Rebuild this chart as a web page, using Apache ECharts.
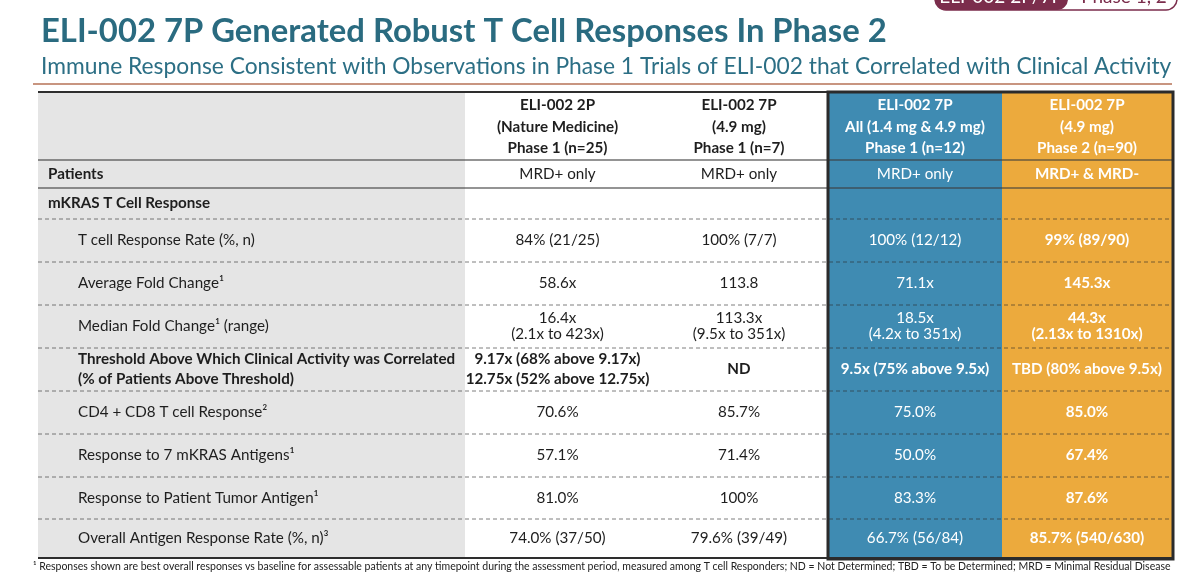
<!DOCTYPE html>
<html>
<head>
<meta charset="utf-8">
<script src="https://cdn.jsdelivr.net/npm/echarts@6.0.0/dist/echarts.min.js"></script>
<style>
html, body { margin: 0; padding: 0; background: #fff; }
#main { width: 1200px; height: 572px; }
</style>
</head>
<body>
<div id="main"></div>
<script>
// 标题
var titleText = 'ELI-002 7P Generated Robust T Cell Responses In Phase 2';
var subtitleText = 'Immune Response Consistent with Observations in Phase 1 Trials of ELI-002 that Correlated with Clinical Activity';
var footnoteText = '¹ Responses shown are best overall responses vs baseline for assessable patients at any timepoint during the assessment period, measured among T cell Responders; ND = Not Determined; TBD = To be Determined; MRD = Minimal Residual Disease';
var tabTexts = ['ELI-002 2P/7P', 'Phase 1, 2'];

// 列标题
var colHeads = [
	'',
	'ELI-002 2P\n(Nature Medicine)\nPhase 1 (n=25)',
	'ELI-002 7P\n(4.9 mg)\nPhase 1 (n=7)',
	'ELI-002 7P\nAll (1.4 mg & 4.9 mg)\nPhase 1 (n=12)',
	'ELI-002 7P\n(4.9 mg)\nPhase 2 (n=90)'
];
// 行标题
var rowLabels = [
	'Patients',
	'mKRAS T Cell Response',
	'T cell Response Rate (%, n)',
	'Average Fold Change¹',
	'Median Fold Change¹ (range)',
	'Threshold Above Which Clinical Activity was Correlated\n(% of Patients Above Threshold)',
	'CD4 + CD8 T cell Response²',
	'Response to 7 mKRAS Antigens¹',
	'Response to Patient Tumor Antigen¹',
	'Overall Antigen Response Rate (%, n)³'
];
// 各列数值
var eli2pPh1 = ['MRD+ only', '', '84% (21/25)', '58.6x', '16.4x\n(2.1x to 423x)', '9.17x (68% above 9.17x)\n12.75x (52% above 12.75x)', '70.6%', '57.1%', '81.0%', '74.0% (37/50)'];
var eli7pPh1 = ['MRD+ only', '', '100% (7/7)', '113.8', '113.3x\n(9.5x to 351x)', 'ND', '85.7%', '71.4%', '100%', '79.6% (39/49)'];
var eli7pAll = ['MRD+ only', '', '100% (12/12)', '71.1x', '18.5x\n(4.2x to 351x)', '9.5x (75% above 9.5x)', '75.0%', '50.0%', '83.3%', '66.7% (56/84)'];
var eli7pPh2 = ['MRD+ & MRD-', '', '99% (89/90)', '145.3x', '44.3x\n(2.13x to 1310x)', 'TBD (80% above 9.5x)', '85.0%', '67.4%', '87.6%', '85.7% (540/630)'];

// 布局（列宽、行高）
var colWidths = [427, 185, 178, 174, 170];
var rowHeights = [68, 28, 31, 43, 43, 43, 43, 43, 43, 42, 39];
var colFills = ['#E5E5E5', '#FFFFFF', '#FFFFFF', '#3F8BB2', '#ECAA3D'];
var FONT = 'Lato';

function edges(arr) {
	var out = [0];
	for (var i = 0; i < arr.length; i++) {
		out.push(out[i] + arr[i]);
	}
	return out;
}
var colEdges = edges(colWidths);
var rowEdges = edges(rowHeights);
var tableW = colEdges[colEdges.length - 1];
var tableH = rowEdges[rowEdges.length - 1];
var valueCols = [null, eli2pPh1, eli7pPh1, eli7pAll, eli7pPh2];

// 单元格文本
function cellText(col, row) {
	if (row === 0) return colHeads[col];
	if (col === 0) return rowLabels[row - 1];
	return valueCols[col][row - 1];
}

var cellData = [];
for (var r = 0; r < rowHeights.length; r++) {
	for (var c = 0; c < colWidths.length; c++) {
		cellData.push([c, r]);
	}
}
var ruleData = [];
for (var k = 0; k < rowEdges.length; k++) {
	ruleData.push([k]);
}

function renderCell(params, api) {
	var col = api.value(0);
	var row = api.value(1);
	var p0 = api.coord([colEdges[col], rowEdges[row]]);
	var p1 = api.coord([colEdges[col + 1], rowEdges[row + 1]]);
	var fill = colFills[col];
	var bold = row === 0 || row === 6 || col === 4 || (col === 0 && row <= 2);
	var color = col >= 3 ? '#FFFFFF' : '#1E1E1E';
	var lh = row === 0 ? 21.5 : (row === 6 ? 20 : 16);
	var tx, align;
	if (col === 0) {
		tx = p0[0] + (row <= 2 ? 10 : 40);
		align = 'left';
	} else {
		tx = (p0[0] + p1[0]) / 2;
		align = 'center';
	}
	return {
		type: 'group',
		children: [{
			type: 'rect',
			shape: { x: p0[0], y: p0[1], width: p1[0] - p0[0], height: p1[1] - p0[1] },
			style: { fill: fill }
		}, {
			type: 'text',
			style: {
				text: cellText(col, row),
				x: tx,
				y: (p0[1] + p1[1]) / 2 + (row === 0 ? 1 : 0),
				align: align,
				verticalAlign: 'middle',
				fill: color,
				fontFamily: FONT,
				fontSize: 15.2,
				fontWeight: bold ? 'bold' : 'normal',
				lineHeight: lh
			}
		}]
	};
}

function renderRule(params, api) {
	var k = api.value(0);
	var a = api.coord([0, rowEdges[k]]);
	var b = api.coord([tableW, rowEdges[k]]);
	var style;
	if (k === 0 || k === rowEdges.length - 1) {
		style = { stroke: '#2E2E2E', lineWidth: 2 };
	} else if (k <= 2) {
		style = { stroke: 'rgba(60,60,60,0.55)', lineWidth: 2 };
	} else {
		style = { stroke: 'rgba(40,40,40,0.6)', lineWidth: 1, lineDash: [4, 3] };
	}
	return {
		type: 'line',
		shape: { x1: a[0], y1: a[1], x2: b[0], y2: b[1] },
		style: style
	};
}

function renderFrame(params, api) {
	var p0 = api.coord([colEdges[3], 0]);
	var p1 = api.coord([tableW, tableH]);
	return {
		type: 'rect',
		shape: { x: p0[0], y: p0[1], width: p1[0] - p0[0] + 1, height: p1[1] - p0[1] + 1 },
		style: { fill: null, stroke: '#2B2B2B', lineWidth: 3 }
	};
}

var dom = document.getElementById('main');
var myChart = echarts.init(dom);
var option = {
	animation: false,
	title: [{
		text: titleText,
		left: 41, top: 15, padding: 0,
		textStyle: { fontFamily: FONT, fontWeight: 'bold', fontSize: 32.8, color: '#2A6B80' }
	}, {
		text: subtitleText,
		left: 41, top: 55, padding: 0,
		textStyle: { fontFamily: FONT, fontWeight: 'normal', fontSize: 22.8, color: '#2C6F85' }
	}, {
		text: footnoteText,
		left: 33, top: 561, padding: 0,
		textStyle: { fontFamily: FONT, fontWeight: 'normal', fontSize: 10.5, color: '#222222' }
	}],
	graphic: [{
		type: 'line',
		shape: { x1: 33, y1: 84, x2: 1172, y2: 84 },
		style: { stroke: '#C89580', lineWidth: 2 }
	}, {
		type: 'rect',
		shape: { x: 935, y: -14, width: 242, height: 24, r: 11 },
		style: { fill: '#FFFFFF', stroke: '#7B2D4C', lineWidth: 1.5 }
	}, {
		type: 'rect',
		shape: { x: 935, y: -14, width: 133, height: 24, r: 11 },
		style: { fill: '#7B2D4C' }
	}, {
		type: 'text',
		style: { text: tabTexts[0], x: 1001, y: -3, align: 'center', verticalAlign: 'middle',
			fill: '#FFFFFF', fontFamily: FONT, fontSize: 19 }
	}, {
		type: 'text',
		style: { text: tabTexts[1], x: 1124, y: -3, align: 'center', verticalAlign: 'middle',
			fill: '#7B2D4C', fontFamily: FONT, fontSize: 19 }
	}],
	grid: { left: 38, right: 1200 - 38 - tableW, top: 92, bottom: 572 - 92 - tableH },
	xAxis: { type: 'value', min: 0, max: tableW, show: false },
	yAxis: { type: 'value', min: 0, max: tableH, inverse: true, show: false },
	series: [{
		type: 'custom',
		renderItem: renderCell,
		data: cellData,
		z: 1,
		silent: true
	}, {
		type: 'custom',
		renderItem: renderRule,
		data: ruleData,
		z: 2,
		silent: true
	}, {
		type: 'custom',
		renderItem: renderFrame,
		data: [[0]],
		z: 3,
		silent: true
	}]
};
if (option && typeof option === "object") {
	myChart.setOption(option, true);
}
</script>
</body>
</html>
